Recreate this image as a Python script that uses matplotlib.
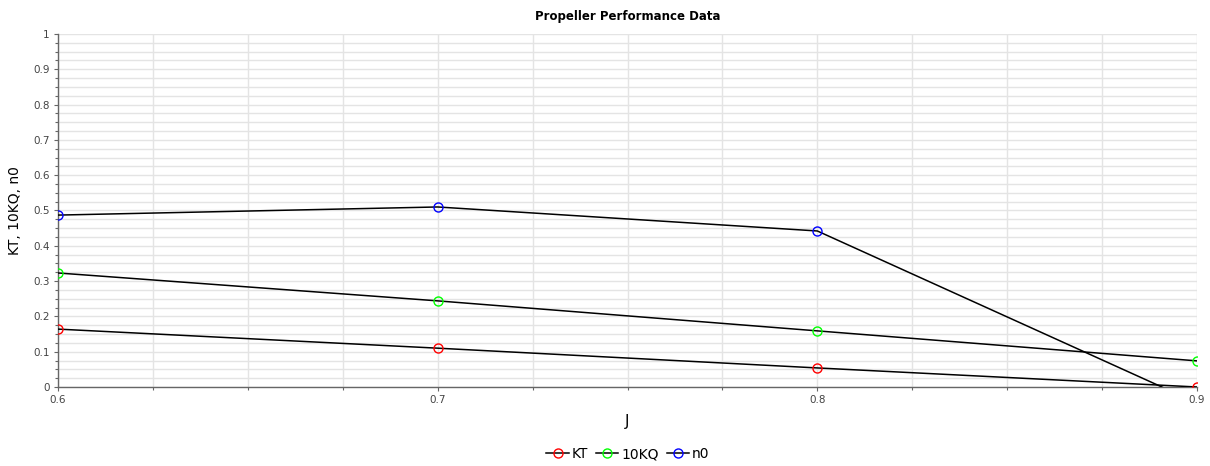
import matplotlib
matplotlib.use("Agg")
import matplotlib.pyplot as plt
from matplotlib.lines import Line2D
from matplotlib.ticker import MultipleLocator, FuncFormatter

# data
J = [0.6, 0.7, 0.8, 0.9]
KT = [0.164, 0.110, 0.054, 0.0]
KQ10 = [0.323, 0.244, 0.159, 0.074]
n0 = [0.487, 0.510, 0.442, -0.045]

series_names = ["KT", "10KQ", "n0"]
series_colors = ["#ff0000", "#00ff00", "#0000ff"]

fig = plt.figure(figsize=(12.10, 4.66), dpi=100)
ax = fig.add_axes([58 / 1210, 1 - 387 / 466, (1197 - 58) / 1210, (387 - 34) / 466])

for vals, name, col in zip([KT, KQ10, n0], series_names, series_colors):
    ax.plot(J, vals, color="black", lw=1.1, zorder=3)
    ax.plot(J, vals, ls="none", marker="o", ms=6.5, mfc="none", mec=col, mew=1.0, zorder=4)

ax.set_xlim(0.6, 0.9)
ax.set_ylim(0, 1)
ax.xaxis.set_major_locator(MultipleLocator(0.1))
ax.xaxis.set_minor_locator(MultipleLocator(0.025))
ax.yaxis.set_major_locator(MultipleLocator(0.1))
ax.yaxis.set_minor_locator(MultipleLocator(0.025))
ax.xaxis.set_major_formatter(FuncFormatter(lambda v, p: f"{v:g}"))
ax.yaxis.set_major_formatter(FuncFormatter(lambda v, p: f"{round(v, 2):g}"))

ax.grid(True, which="both", color="#e4e4e4", lw=1.0, zorder=0)
ax.set_axisbelow(True)
for s in ["top", "right"]:
    ax.spines[s].set_visible(False)
for s in ["left", "bottom"]:
    ax.spines[s].set_color("#666666")
    ax.spines[s].set_linewidth(1.0)

ax.tick_params(which="major", length=3, width=0.8, color="#666666",
               labelsize=7.5, labelcolor="#444444", pad=3)
ax.tick_params(which="minor", length=2, width=0.8, color="#666666")

ax.set_title("Propeller Performance Data", fontsize=8.5, fontweight="bold", pad=10)
ax.set_xlabel("J", fontsize=11, labelpad=6)
ax.set_ylabel("KT, 10KQ, n0", fontsize=10, labelpad=8)

handles = [Line2D([], [], color="black", lw=1.1, marker="o", ms=6.5, mfc="none",
                  mec=c, mew=1.0) for c in series_colors]
fig.legend(handles, series_names, loc="center", bbox_to_anchor=(628 / 1210, 1 - 454 / 466),
           ncol=3, frameon=False, fontsize=10, handlelength=1.6, handletextpad=0.2,
           columnspacing=0.6)

fig.savefig("out.png", dpi=100)
